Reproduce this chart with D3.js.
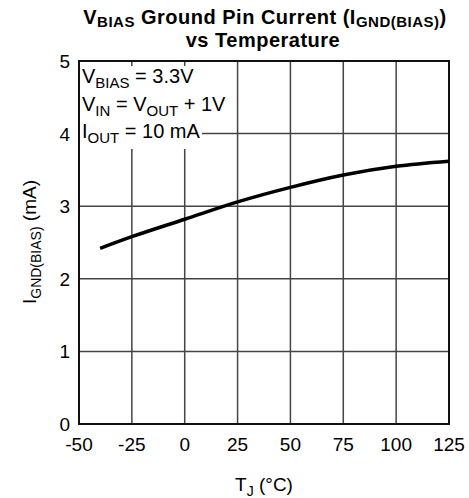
<!DOCTYPE html>
<html><head><meta charset="utf-8">
<script src="https://cdn.jsdelivr.net/npm/d3@7"></script>
<style>
body{margin:0;background:#fff;}
text{font-family:"Liberation Sans",Arial,sans-serif;fill:#000;}
</style></head>
<body>
<svg id="c" width="469" height="498"></svg>
<script>
const temps = [-40, -25, 0, 25, 50, 75, 100, 125];
const currents = [2.42, 2.58, 2.82, 3.06, 3.26, 3.43, 3.55, 3.62];
const xTicks = [-50, -25, 0, 25, 50, 75, 100, 125];
const yTicks = [0, 1, 2, 3, 4, 5];

const svg = d3.select("#c");
const m = {l:79, r:449, t:61, b:424};
const x = d3.scaleLinear().domain([-50,125]).range([m.l,m.r]);
const y = d3.scaleLinear().domain([0,5]).range([m.b,m.t]);

// grid
const g = svg.append("g");
g.selectAll(".vx").data(xTicks.slice(1,-1)).join("line")
 .attr("x1",d=>x(d)).attr("x2",d=>x(d)).attr("y1",m.t).attr("y2",m.b)
 .attr("stroke","#444").attr("stroke-width",1.5);
g.selectAll(".hy").data(yTicks.slice(1,-1)).join("line")
 .attr("y1",d=>y(d)).attr("y2",d=>y(d)).attr("x1",m.l).attr("x2",m.r)
 .attr("stroke","#444").attr("stroke-width",1.5);

// text box mask
svg.append("rect").attr("x",m.l+1).attr("y",66).attr("width",122).attr("height",83).attr("fill","#fff");

// frame
svg.append("rect").attr("x",m.l).attr("y",m.t).attr("width",m.r-m.l).attr("height",m.b-m.t)
 .attr("fill","none").attr("stroke","#111").attr("stroke-width",2);

// curve
const line = d3.line().x((d,i)=>x(temps[i])).y(d=>y(d)).curve(d3.curveMonotoneX);
svg.append("path").datum(currents).attr("d",line).attr("fill","none")
 .attr("stroke","#000").attr("stroke-width",3.5);

// tick labels
svg.selectAll(".xt").data(xTicks).join("text")
 .attr("x",d=>x(d)).attr("y",451).attr("text-anchor","middle").attr("font-size",19).text(d=>d);
svg.selectAll(".yt").data(yTicks).join("text")
 .attr("x",70).attr("y",d=>y(d)+7).attr("text-anchor","end").attr("font-size",19).text(d=>d);

// title
const t1 = svg.append("text").attr("x",265).attr("y",24).attr("text-anchor","middle")
 .attr("font-size",20).attr("font-weight","bold").attr("letter-spacing",0.5);
t1.append("tspan").text("V");
t1.append("tspan").attr("font-size",15).attr("dy",3).text("BIAS");
t1.append("tspan").attr("dy",-3).text(" Ground Pin Current (I");
t1.append("tspan").attr("font-size",15).attr("dy",3).text("GND(BIAS)");
t1.append("tspan").attr("dy",-3).text(")");
svg.append("text").attr("x",263).attr("y",47).attr("text-anchor","middle")
 .attr("font-size",20).attr("font-weight","bold").attr("letter-spacing",0.5).text("vs Temperature");

// annotation
const ann = [["V","BIAS"," = 3.3V"],["V","IN"," = V","OUT"," + 1V"],["I","OUT"," = 10 mA"]];
ann.forEach((parts,i)=>{
  const t = svg.append("text").attr("x",82).attr("y",83+i*27.5).attr("font-size",20);
  parts.forEach((p,j)=>{
    const sub = j%2===1;
    t.append("tspan").attr("font-size",sub?15:20).attr("dy", j===0?0:(sub?5:-5)).text(p);
  });
});

// axis titles
const xt = svg.append("text").attr("x",264).attr("y",491).attr("text-anchor","middle").attr("font-size",19);
xt.append("tspan").text("T");
xt.append("tspan").attr("font-size",14).attr("dy",5).text("J");
xt.append("tspan").attr("dy",-5).text(" (°C)");
const yt = svg.append("text").attr("transform","translate(36,242) rotate(-90)").attr("text-anchor","middle").attr("font-size",19);
yt.append("tspan").text("I");
yt.append("tspan").attr("font-size",14).attr("dy",5).text("GND(BIAS)");
yt.append("tspan").attr("dy",-5).text(" (mA)");
</script>
</body></html>
